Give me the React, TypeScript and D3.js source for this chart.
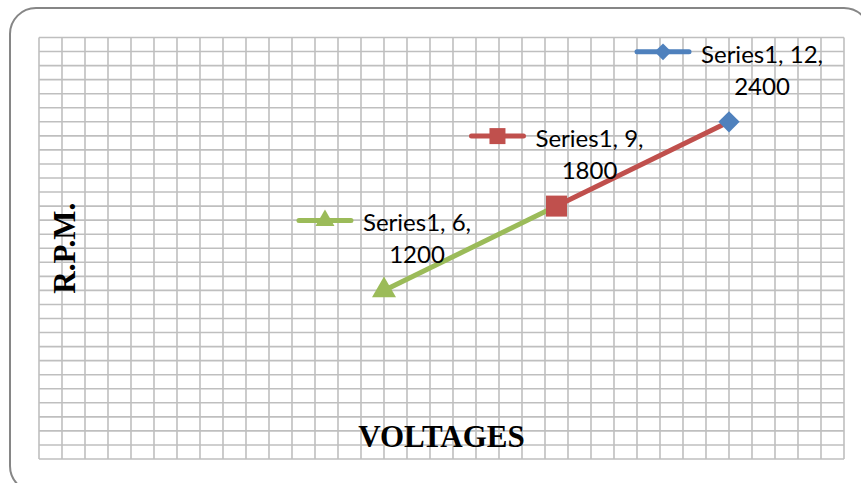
import React, { useEffect, useRef } from 'react';
import * as d3 from 'd3';

// chart values
const seriesName = 'Series1';
const voltages = [6, 9, 12];
const rpm = [1200, 1800, 2400];
const pointColors = ['#9BBB59', '#C0504D', '#4F81BD'];
const pointMarkers = ['triangle', 'square', 'diamond'];
const xTitle = 'VOLTAGES';
const yTitle = 'R.P.M.';

const width = 861;
const height = 483;
const plot = { left: 39, top: 37.5, right: 844, bottom: 459 };

// marker path, w = visible width of the marker in px
function markerPath(kind: string, w: number) {
  if (kind === 'triangle') return d3.symbol().type(d3.symbolTriangle).size(Math.sqrt(3) / 4 * w * w)();
  if (kind === 'square') return d3.symbol().type(d3.symbolSquare).size(w * w)();
  return d3.symbol().type(d3.symbolDiamond2).size(w * w / 2)();
}

export default function App() {
  const ref = useRef<SVGSVGElement>(null);

  useEffect(() => {
    const svg = d3.select(ref.current);
    svg.selectAll('*').remove();

    // chart area with rounded border
    svg.append('rect')
      .attr('x', 10).attr('y', 8)
      .attr('width', 860).attr('height', 484)
      .attr('rx', 26)
      .attr('fill', '#fff')
      .attr('stroke', '#868686')
      .attr('stroke-width', 2);

    const x = d3.scaleLinear().domain([0, 14]).range([plot.left, plot.right]);
    const y = d3.scaleLinear().domain([0, 3000]).range([plot.bottom, plot.top]);

    // gridlines
    const grid = svg.append('g').attr('stroke', '#BFBFBF').attr('stroke-width', 1.6);
    d3.range(0, 36).map(i => i * 0.4).forEach(v => {
      grid.append('line')
        .attr('x1', x(v)).attr('x2', x(v))
        .attr('y1', plot.top).attr('y2', plot.bottom);
    });
    d3.range(0, 31).map(i => i * 100).forEach(v => {
      grid.append('line')
        .attr('x1', plot.left).attr('x2', plot.right)
        .attr('y1', y(v)).attr('y2', y(v));
    });

    // axis titles
    svg.append('text')
      .attr('x', (plot.left + plot.right) / 2)
      .attr('y', 447)
      .attr('text-anchor', 'middle')
      .style('font-family', '"Liberation Serif", "Times New Roman", serif')
      .style('font-weight', 'bold')
      .style('font-size', '31px')
      .text(xTitle);

    svg.append('text')
      .attr('transform', 'translate(75,' + (plot.top + plot.bottom) / 2 + ') rotate(-90)')
      .attr('text-anchor', 'middle')
      .style('font-family', '"Liberation Serif", "Times New Roman", serif')
      .style('font-weight', 'bold')
      .style('font-size', '31px')
      .text(yTitle);

    // line segments, each in the colour of the point it starts from
    for (let i = 1; i < rpm.length; i++) {
      svg.append('path')
        .attr('d', d3.line()([[x(voltages[i - 1]), y(rpm[i - 1])], [x(voltages[i]), y(rpm[i])]]))
        .attr('fill', 'none')
        .attr('stroke', pointColors[i - 1])
        .attr('stroke-width', 5);
    }

    // markers
    rpm.forEach((v, i) => {
      const w = pointMarkers[i] === 'square' ? 21 : 24;
      svg.append('path')
        .attr('d', markerPath(pointMarkers[i], w))
        .attr('transform', 'translate(' + x(voltages[i]) + ',' + y(v) + ')')
        .attr('fill', pointColors[i]);
    });

    // data labels with legend key
    rpm.forEach((v, i) => {
      const g = svg.append('g')
        .attr('transform', 'translate(' + x(voltages[i]) + ',' + y(v) + ')')
        .style('font-family', 'Lato, "Open Sans", sans-serif')
        .style('font-size', '24px')
        .attr('fill', '#000');
      const t1 = g.append('text').text(seriesName + ', ' + voltages[i] + ',');
      const w = (t1.node() as SVGTextElement).getComputedTextLength();
      const keyW = 56;
      const gap = 10;
      const left = -(keyW + gap + w) / 2;
      t1.attr('x', left + keyW + gap).attr('y', -59);
      g.append('text')
        .attr('x', left + keyW + gap + w / 2)
        .attr('y', -27)
        .attr('text-anchor', 'middle')
        .text(String(v));
      g.append('line')
        .attr('x1', left + 2).attr('x2', left + keyW - 2)
        .attr('y1', -70).attr('y2', -70)
        .attr('stroke', pointColors[i])
        .attr('stroke-width', 5)
        .attr('stroke-linecap', 'round');
      g.append('path')
        .attr('d', markerPath(pointMarkers[i], pointMarkers[i] === 'square' ? 16 : 19))
        .attr('transform', 'translate(' + (left + keyW / 2) + ',-70)')
        .attr('fill', pointColors[i]);
    });
  }, []);

  return (
    <svg ref={ref} width={width} height={height}
      style={{ position: 'absolute', left: 0, top: 0, display: 'block' }} />
  );
}
